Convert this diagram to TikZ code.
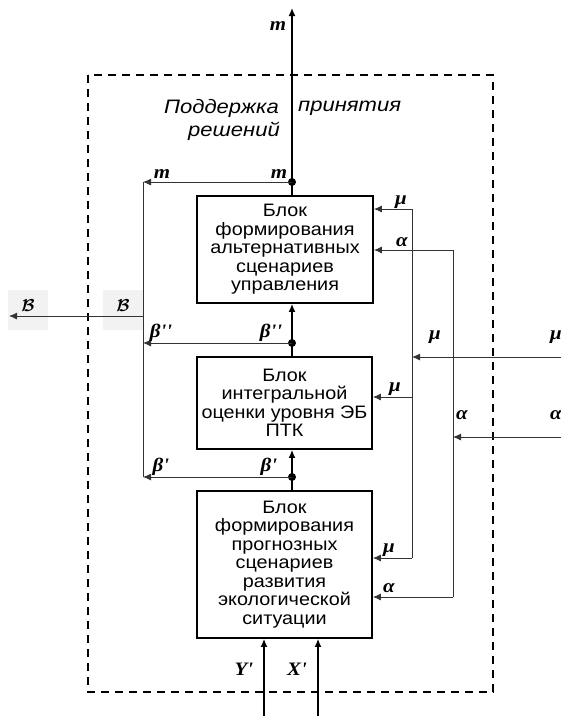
\documentclass[tikz,border=0pt]{standalone}
\usepackage{amsmath}
\usepackage{bm}
\usepackage{fontspec}
\setmainfont{Liberation Sans}[FakeStretch=1.1]
\newfontfamily\titlefont{Liberation Sans}[FakeStretch=1.13]
\newfontfamily\labfont{Liberation Serif}[FakeStretch=1.1]
\usetikzlibrary{arrows.meta}
\begin{document}
\begin{tikzpicture}[x=1pt,y=-1pt,
  blockbox/.style={draw=black,line width=1.8pt,inner sep=0pt,align=center,
    font=\fontsize{18}{18.5}\selectfont},
  mainln/.style={draw=black,line width=1.4pt},
  thinln/.style={draw=black!80,line width=0.9pt},
  arr/.style={-{Latex[length=8pt,width=7pt]}},
  jdot/.style={circle,fill=black,inner sep=0pt,minimum size=8pt},
  lab/.style={font=\labfont\bfseries\itshape\fontsize{19}{19}\selectfont,inner sep=0pt},
  calb/.style={inner sep=0pt,font=\fontsize{19}{19}\selectfont},
  greybg/.style={fill=black!5,draw=none},
  title/.style={font=\titlefont\itshape\fontsize{19.5}{23}\selectfont,inner sep=0pt}
]
\useasboundingbox (0,0) rectangle (561,716);
% dashed frame
\draw[line width=1.6pt,dash pattern=on 8pt off 6pt] (88,75) rectangle (493,692);
% grey label backgrounds
\fill[greybg] (8,290) rectangle (48,330);
\fill[greybg] (103,290) rectangle (143,330);
% title
\node[title,anchor=east] (t1) at (279,108) {Поддержка};
\node[title,anchor=west] (t2) at (298,108) {принятия};
\node[title,anchor=east] (t3) at (280,131) {решений};
% blocks
\node[blockbox,minimum width=176pt,minimum height=107pt] (b1) at (285,249.5)
  {Блок\\формирования\\альтернативных\\сценариев\\управления};
\node[blockbox,minimum width=175pt,minimum height=92pt] (b2) at (284.5,403)
  {Блок\\интегральной\\оценки уровня ЭБ\\ПТК};
\node[blockbox,minimum width=175pt,minimum height=147pt] (b3) at (284.5,564.5)
  {Блок\\формирования\\прогнозных\\сценариев\\развития\\экологической\\ситуации};
% junction dots
\node[jdot] (d1) at (292,182) {};
\node[jdot] (d2) at (292,343) {};
\node[jdot] (d3) at (292,477) {};
% coordinates
\coordinate (top) at (292,8);
\coordinate (L1) at (143,182);
\coordinate (L2) at (143,343);
\coordinate (L3) at (143,477);
\coordinate (LB) at (143,316);
\coordinate (Bout) at (9,316);
\coordinate (Mu) at (412,209);
\coordinate (Mj) at (412,357);
\coordinate (Mm) at (412,397);
\coordinate (Mb) at (412,558);
\coordinate (MuIn) at (561,357);
\coordinate (Au) at (453,250);
\coordinate (Aj) at (453,437);
\coordinate (Ab) at (453,597);
\coordinate (AIn) at (561,437);
\coordinate (Yin) at (264,716);
\coordinate (Xin) at (318,716);
% main chain
\draw[mainln] (b1.north -| d1) -- (d1.center);
\draw[mainln,arr] (d1.center) -- (top);
\draw[mainln] (b2.north -| d2) -- (d2.center);
\draw[mainln,arr] (d2.center) -- (b1.south -| d2);
\draw[mainln] (b3.north -| d3) -- (d3.center);
\draw[mainln,arr] (d3.center) -- (b2.south -| d3);
\draw[mainln,arr] (Yin) -- (Yin |- b3.south);
\draw[mainln,arr] (Xin) -- (Xin |- b3.south);
% left bus
\draw[thinln,arr] (d1.center) -- (L1);
\draw[thinln,arr] (d2.center) -- (L2);
\draw[thinln,arr] (d3.center) -- (L3);
\draw[thinln] (L1) -- (L3);
\draw[thinln,arr] (LB) -- (Bout);
% right buses
\draw[thinln] (Mu) -- (Mb);
\draw[thinln] (Au) -- (Ab);
\draw[thinln,arr] (MuIn) -- (Mj);
\draw[thinln,arr] (AIn) -- (Aj);
\draw[thinln,arr] (Mu) -- (Mu -| b1.east);
\draw[thinln,arr] (Au) -- (Au -| b1.east);
\draw[thinln,arr] (Mm) -- (Mm -| b2.east);
\draw[thinln,arr] (Mb) -- (Mb -| b3.east);
\draw[thinln,arr] (Ab) -- (Ab -| b3.east);
% labels
\node[lab] (lm0) at (278,26) {m};
\node[lab] (lm1) at (279,174) {m};
\node[lab] (lm2) at (162,174) {m};
\node[lab] (lb1) at (161,333) {β''};
\node[lab] (lb2) at (271,333) {β''};
\node[lab] (lb3) at (161,467) {β'};
\node[lab] (lb4) at (269,467) {β'};
\node[calb] (lB1) at (28,306) {$\bm{\mathcal{B}}$};
\node[calb] (lB2) at (123,306) {$\bm{\mathcal{B}}$};
\node[lab] (lmu1) at (401,202) {μ};
\node[lab] (la1) at (402,242) {α};
\node[lab] (lmu2) at (435,337) {μ};
\node[lab] (lmu3) at (556,337) {μ};
\node[lab] (la2) at (462,415) {α};
\node[lab] (la3) at (556,415) {α};
\node[lab] (lmu4) at (395,389) {μ};
\node[lab] (lmu5) at (389,550) {μ};
\node[lab] (la4) at (389,588) {α};
\node[lab] (lY) at (244,669) {Y'};
\node[lab] (lX) at (297,669) {X'};
\end{tikzpicture}
\end{document}
